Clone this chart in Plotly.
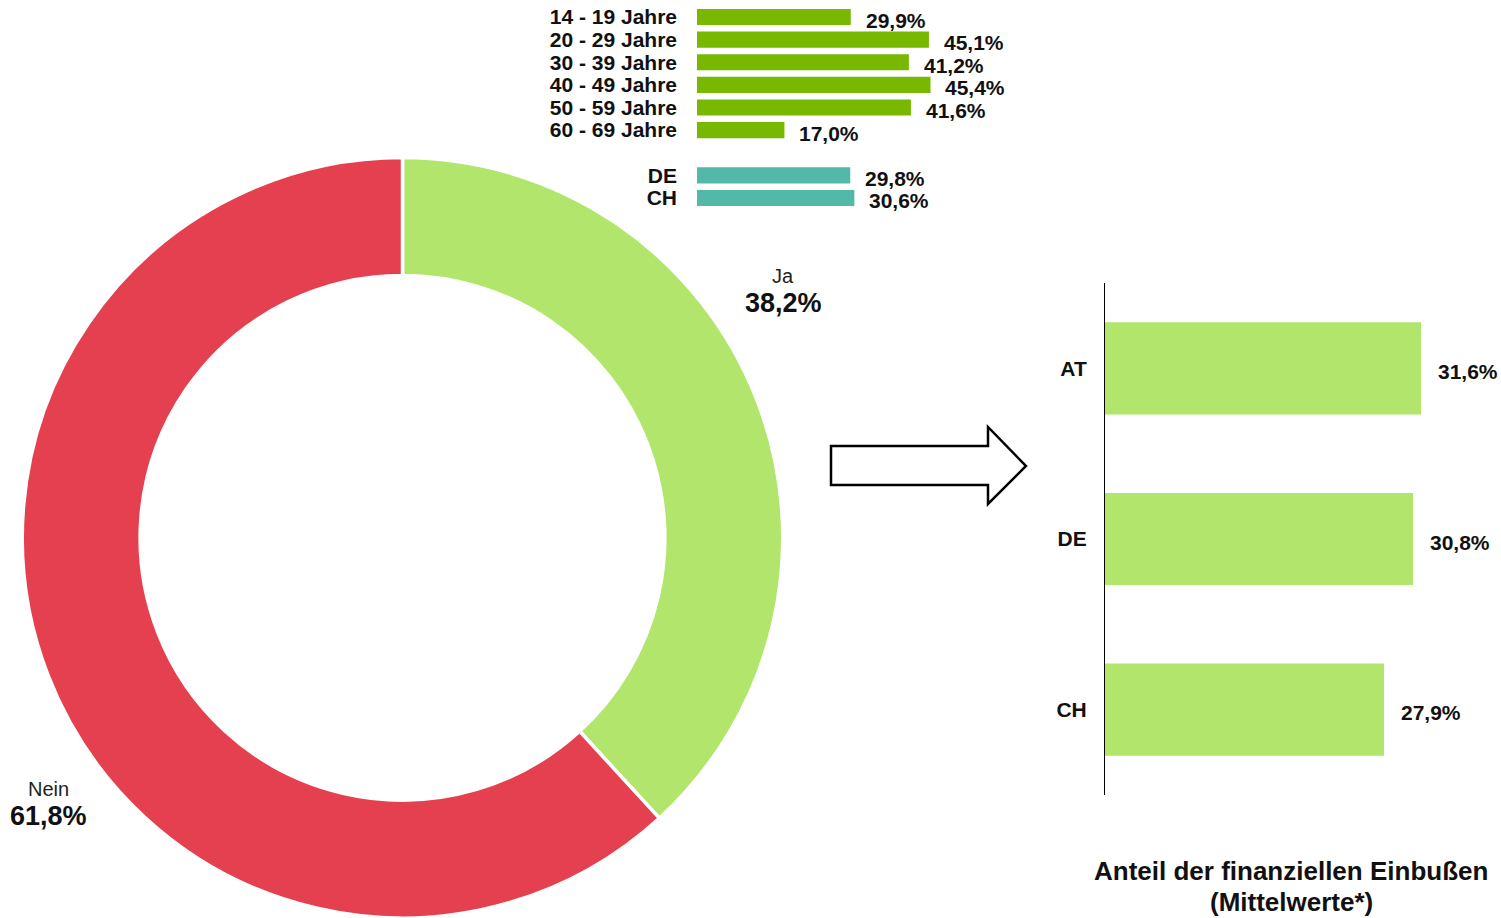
import plotly.graph_objects as go

W, H = 1501, 918
FONT = "Liberation Sans, Arial, sans-serif"

# ---------------- data ----------------
donut_labels = ["Ja", "Nein"]
donut_values = [38.2, 61.8]
donut_colors = ["#b1e56b", "#e5404f"]

age_groups = ["14 - 19 Jahre", "20 - 29 Jahre", "30 - 39 Jahre",
              "40 - 49 Jahre", "50 - 59 Jahre", "60 - 69 Jahre"]
age_values = [29.9, 45.1, 41.2, 45.4, 41.6, 17.0]
top_countries = ["DE", "CH"]
top_country_values = [29.8, 30.6]

countries = ["AT", "DE", "CH"]
loss_values = [31.6, 30.8, 27.9]

title_lines = ["Anteil der finanziellen Einbußen", "(Mittelwerte*)"]

AGE_COLOR = "#78b800"
TEAL = "#52b9a9"
LIGHT_GREEN = "#b1e56b"


def px_x(p):
    return p / W


def px_y(p):
    return 1 - p / H


def fmt(v):
    return f"{v:.1f}".replace(".", ",") + "%"


fig = go.Figure()

# ---------------- donut ----------------
fig.add_trace(go.Pie(
    labels=donut_labels, values=donut_values, hole=0.69,
    sort=False, direction="clockwise", rotation=0,
    marker=dict(colors=donut_colors, line=dict(color="white", width=3.5)),
    textinfo="none", showlegend=False, hoverinfo="label+percent",
    domain=dict(x=[px_x(21), px_x(784)], y=[0, px_y(157.5)]),
))

# ---------------- top bar chart ----------------
spacer = " "
top_cats = age_groups + [spacer] + top_countries
top_vals = age_values + [None] + top_country_values
top_colors = [AGE_COLOR] * len(age_groups) + ["rgba(0,0,0,0)"] + [TEAL] * len(top_countries)

fig.add_trace(go.Bar(
    y=top_cats, x=top_vals, orientation="h",
    marker=dict(color=top_colors, line=dict(width=0)),
    width=0.71, xaxis="x2", yaxis="y2", showlegend=False,
))

# ---------------- right bar chart ----------------
fig.add_trace(go.Bar(
    y=countries, x=loss_values, orientation="h",
    marker=dict(color=LIGHT_GREEN, line=dict(width=0)),
    width=0.54, xaxis="x3", yaxis="y3", showlegend=False,
))

annotations = []
for cat, v in zip(top_cats, top_vals):
    if v is None:
        continue
    annotations.append(dict(
        x=v, y=cat, xref="x2", yref="y2", text=f"<b>{fmt(v)}</b>",
        showarrow=False, xanchor="left", yanchor="middle",
        xshift=13, yshift=-3, font=dict(family=FONT, size=21, color="#111"),
    ))
for cat, v in zip(countries, loss_values):
    annotations.append(dict(
        x=v, y=cat, xref="x3", yref="y3", text=f"<b>{fmt(v)}</b>",
        showarrow=False, xanchor="left", yanchor="middle",
        xshift=15, yshift=-3, font=dict(family=FONT, size=21, color="#111"),
    ))

# donut labels
donut_label_pos = {"Ja": (783, 276, 303), "Nein": (48, 789, 816)}
for lab, v in zip(donut_labels, donut_values):
    xp, y1, y2 = donut_label_pos[lab]
    annotations.append(dict(
        x=px_x(xp), y=px_y(y1), xref="paper", yref="paper", text=lab,
        showarrow=False, xanchor="center", yanchor="middle",
        font=dict(family=FONT, size=20, color="#222"),
    ))
    annotations.append(dict(
        x=px_x(xp), y=px_y(y2), xref="paper", yref="paper", text=f"<b>{fmt(v)}</b>",
        showarrow=False, xanchor="center", yanchor="middle",
        font=dict(family=FONT, size=27, color="#111"),
    ))

# title
for line, yp in zip(title_lines, [871, 902]):
    annotations.append(dict(
        x=px_x(1291), y=px_y(yp), xref="paper", yref="paper", text=f"<b>{line}</b>",
        showarrow=False, xanchor="center", yanchor="middle",
        font=dict(family=FONT, size=26, color="#111"),
    ))

# arrow shape
arrow_pts = [(831, 446), (988, 446), (988, 427), (1026, 466),
             (988, 504), (988, 485), (831, 485)]
path = "M " + " L ".join(f"{px_x(x):.5f},{px_y(y):.5f}" for x, y in arrow_pts) + " Z"
shapes = [dict(type="path", xref="paper", yref="paper", path=path,
               line=dict(color="black", width=2.5), fillcolor="white")]

tick_font = dict(family=FONT, size=21, color="#111", weight="bold")

fig.update_layout(
    width=W, height=H, margin=dict(l=0, r=0, t=0, b=0),
    paper_bgcolor="white", plot_bgcolor="rgba(0,0,0,0)",
    font=dict(family=FONT, color="#111"),
    separators=",.",
    annotations=annotations, shapes=shapes,
    xaxis2=dict(domain=[px_x(697), px_x(1057)], range=[0, 70], anchor="y2",
                visible=False, fixedrange=True),
    yaxis2=dict(domain=[px_y(209.3), px_y(5.7)], anchor="x2", type="category",
                categoryorder="array", categoryarray=top_cats,
                tickmode="array", tickvals=top_cats, ticktext=top_cats,
                range=[len(top_cats) - 0.5, -0.5],
                showgrid=False, zeroline=False, showline=False, ticks="",
                ticklabelstandoff=19, tickfont=tick_font),
    xaxis3=dict(domain=[px_x(1105), 1], range=[0, 39.6], anchor="y3",
                visible=False, fixedrange=True),
    yaxis3=dict(domain=[px_y(795), px_y(283)], anchor="x3", type="category",
                categoryorder="array", categoryarray=countries,
                tickmode="array", tickvals=countries, ticktext=countries,
                range=[len(countries) - 0.5, -0.5],
                showgrid=False, zeroline=False, showline=True,
                linecolor="black", linewidth=1, ticks="",
                ticklabelstandoff=13, tickfont=tick_font),
)

fig.write_html(
    "out.html",
    config={"displayModeBar": False},
    post_script="document.body.style.margin='0';document.body.style.overflow='hidden';",
)
